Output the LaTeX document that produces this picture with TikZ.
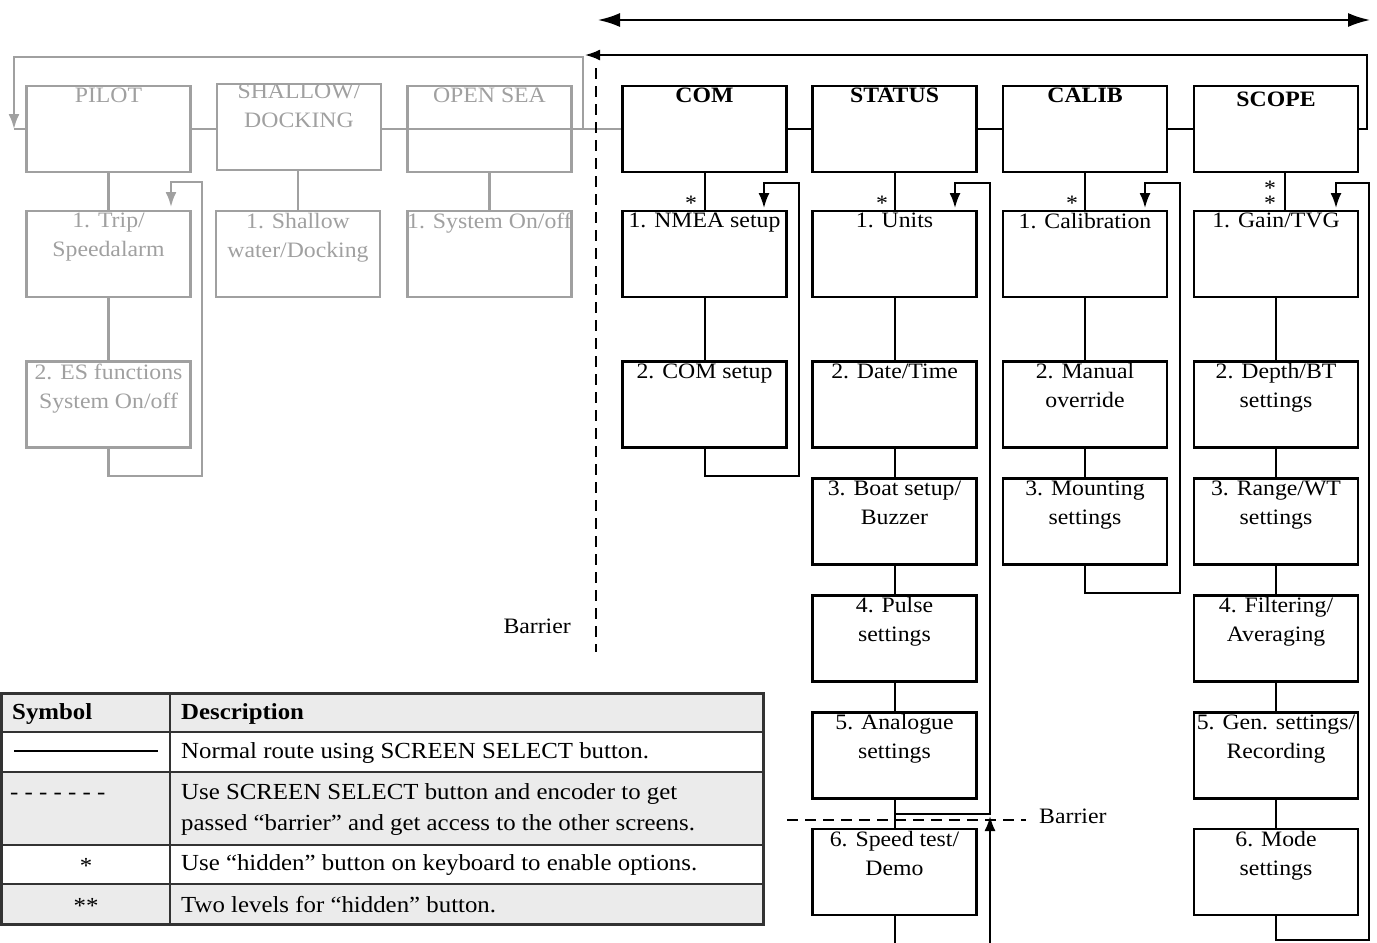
\documentclass[tikz,border=0pt]{standalone}
\usepackage{fontspec}
\setmainfont{Liberation Serif}[FakeStretch=1.08]
\usetikzlibrary{arrows.meta,positioning}
\definecolor{gr}{HTML}{A0A0A0}
\definecolor{tabgr}{HTML}{EBEBEB}
\definecolor{tabline}{HTML}{333333}
\tikzset{
  box/.style={draw=black, line width=2.2pt, minimum width=164pt, minimum height=86pt, inner sep=0pt},
  gbox/.style={box, draw=gr},
  txt/.style={below=3pt, align=center, inner sep=0pt, font=\fontsize{22}{29}\selectfont},
  gtxt/.style={txt, text=gr},
  btxt/.style={txt, font=\fontsize{22}{29}\selectfont\bfseries},
  conn/.style={draw=black, line width=2pt},
  gconn/.style={draw=gr, line width=2.2pt},
  tip/.style={-{Latex[length=15pt,width=11pt]}},
  star/.style={anchor=south, inner sep=0pt, font=\fontsize{22}{22}\selectfont},
  tabtxt/.style={anchor=west, inner sep=0pt, align=left, font=\fontsize{23}{31}\selectfont},
}
\begin{document}
\begin{tikzpicture}[x=1pt,y=-1pt]
\useasboundingbox (0,0) rectangle (1377,943);

% ---------- grey (inactive) boxes ----------
\node[gbox] (pilot) at (108.5,129) {};
\node[gtxt] (pilott) at (pilot.north) {PILOT};
\node[gbox] (shallow) at (299,127) {};
\node[gtxt] (shallowt) at ([yshift=2pt]shallow.north) {SHALLOW/\\DOCKING};
\node[gbox] (opensea) at (489.5,129) {};
\node[gtxt] (openseat) at (opensea.north) {OPEN SEA};
\node[gbox] (trip) at (108.5,254) {};
\node[gtxt] (tript) at (trip.north) {1. Trip/\\Speedalarm};
\node[gbox] (shw) at (298,254) {};
\node[gtxt] (shwt) at (shw.north) {1. Shallow\\water/Docking};
\node[gbox] (sys) at (489.5,254) {};
\node[gtxt] (syst) at (sys.north) {1. System On/off};
\node[gbox] (es) at (108.5,404.5) {};
\node[gtxt] (est) at (es.north) {2. ES functions\\System On/off};

% grey connectors
\draw[gconn] (pilot.east) -- (pilot.east -| shallow.west);
\draw[gconn] (shallow.east |- opensea.east) -- (opensea.east);
\draw[gconn] (opensea.east) -- (opensea.east -| 622,0);
\coordinate (gA) at (583,129);
\coordinate (gB) at (583,57);
\coordinate (gC) at (14,57);
\coordinate (gD) at (14,129);
\draw[gconn] (pilot.west) -- (gD);
\draw[gconn, color=gr, -{Latex[length=15pt,width=11pt]}] (gA) -- (gB) -- (gC) -- (gD);
\draw[gconn] (pilot.south) -- (trip.north);
\draw[gconn] (trip.south) -- (es.north);
\draw[gconn] (shallow.south -| shw.north) -- (shw.north);
\draw[gconn] (opensea.south) -- (sys.north);
\draw[gconn, color=gr, -{Latex[length=15pt,width=11pt]}] (es.south) -- (108.5,476) -- (202,476) -- (202,182) -- (171,182) -- (171,207);

% ---------- black boxes ----------
\node[box] (com) at (704.5,129) {};
\node[btxt] (comt) at (com.north) {COM};
\node[box] (status) at (894.5,129) {};
\node[btxt] (statust) at (status.north) {STATUS};
\node[box] (calib) at (1085,129) {};
\node[btxt] (calibt) at (calib.north) {CALIB};
\node[box] (scope) at (1276,129) {};
\node[btxt] (scopet) at ([yshift=-4pt]scope.north) {SCOPE};

\node[box] (nmea) at (704.5,254) {};
\node[txt] (nmeat) at (nmea.north) {1. NMEA setup};
\node[box] (comset) at (704.5,404.5) {};
\node[txt] (comsett) at (comset.north) {2. COM setup};

\node[box] (units) at (894.5,254) {};
\node[txt] (unitst) at (units.north) {1. Units};
\node[box] (datet) at (894.5,404.5) {};
\node[txt] (datett) at (datet.north) {2. Date/Time};
\node[box] (boat) at (894.5,521.5) {};
\node[txt] (boatt) at (boat.north) {3. Boat setup/\\Buzzer};
\node[box] (pulse) at (894.5,638.5) {};
\node[txt] (pulset) at (pulse.north) {4. Pulse\\settings};
\node[box] (analog) at (894.5,755.5) {};
\node[txt] (analogt) at (analog.north) {5. Analogue\\settings};
\node[box] (speed) at (894.5,872) {};
\node[txt] (speedt) at (speed.north) {6. Speed test/\\Demo};

\node[box] (calibr) at (1085,254) {};
\node[txt] (calibrt) at (calibr.north) {1. Calibration};
\node[box] (manual) at (1085,404.5) {};
\node[txt] (manualt) at (manual.north) {2. Manual\\override};
\node[box] (mount) at (1085,521.5) {};
\node[txt] (mountt) at (mount.north) {3. Mounting\\settings};

\node[box] (gain) at (1276,254) {};
\node[txt] (gaint) at (gain.north) {1. Gain/TVG};
\node[box] (depth) at (1276,404.5) {};
\node[txt] (deptht) at (depth.north) {2. Depth/BT\\settings};
\node[box] (range) at (1276,521.5) {};
\node[txt] (ranget) at (range.north) {3. Range/WT\\settings};
\node[box] (filter) at (1276,638.5) {};
\node[txt] (filtert) at (filter.north) {4. Filtering/\\Averaging};
\node[box] (gen) at (1276,755.5) {};
\node[txt] (gent) at (gen.north) {5. Gen. settings/\\Recording};
\node[box] (mode) at (1276,872) {};
\node[txt] (modet) at (mode.north) {6. Mode\\settings};

% horizontal links
\draw[conn] (com.east) -- (status.west);
\draw[conn] (status.east) -- (calib.west);
\draw[conn] (calib.east) -- (scope.west);

% vertical links
\draw[conn] (com.south) -- (nmea.north);
\draw[conn] (nmea.south) -- (comset.north);
\draw[conn] (status.south) -- (units.north);
\draw[conn] (units.south) -- (datet.north);
\draw[conn] (datet.south) -- (boat.north);
\draw[conn] (boat.south) -- (pulse.north);
\draw[conn] (pulse.south) -- (analog.north);
\draw[conn] (analog.south) -- (speed.north);
\draw[conn] (calib.south) -- (calibr.north);
\draw[conn] (calibr.south) -- (manual.north);
\draw[conn] (manual.south) -- (mount.north);
\draw[conn] ([xshift=9pt]scope.south) -- ([xshift=9pt]gain.north);
\draw[conn] (gain.south) -- (depth.north);
\draw[conn] (depth.south) -- (range.north);
\draw[conn] (range.south) -- (filter.north);
\draw[conn] (filter.south) -- (gen.north);
\draw[conn] (gen.south) -- (mode.north);

% stars
\node[star] (s1) at (691,211) {*};
\node[star] (s2) at (882,211) {*};
\node[star] (s3) at (1072,211) {*};
\node[star, align=center, font=\fontsize{22}{14}\selectfont] (s4) at (1270,211) {*\\*};

% return loops
\draw[conn, tip] (comset.south) -- (704.5,476) -- (799,476) -- (799,183) -- (764,183) -- (764,208);
\coordinate (sj) at (894.5,814);
\draw[conn, tip] (sj) -- (990,814) -- (990,183) -- (955,183) -- (955,208);
\coordinate (sb) at (894.5,943);
\coordinate (sr) at (990,943);
\draw[conn] (speed.south) -- (sb);
\draw[conn, tip] (sr) -- (990,816);
\draw[conn, tip] (mount.south) -- (1085,593) -- (1180,593) -- (1180,183) -- (1145,183) -- (1145,208);
\draw[conn, tip] (mode.south) -- (1276,940) -- (1369,940) -- (1369,183) -- (1336,183) -- (1336,208);

% top arrows
\draw[conn, tip] (scope.east) -- (1367,129) -- (1367,55) -- (585,55);
\coordinate (tl) at (598,20);
\coordinate (tr) at (1370,20);
\draw[conn, {Latex[length=22pt,width=14pt]}-{Latex[length=22pt,width=14pt]}] (tl) -- (tr);

% barriers
\draw[draw=black, line width=2pt, dash pattern=on 11pt off 7pt] (596,68) -- (596,652);
\node[anchor=base east, inner sep=0pt, font=\fontsize{22}{22}\selectfont] (bar1) at (571,633) {Barrier};
\draw[draw=black, line width=2pt, dash pattern=on 11pt off 7pt] (787,820) -- (1026,820);
\node[anchor=base west, inner sep=0pt, font=\fontsize{22}{22}\selectfont] (bar2) at (1039,823) {Barrier};

% ---------- legend table ----------
\fill[tabgr] (0,693) rectangle (765,732);
\fill[tabgr] (0,772) rectangle (765,845);
\fill[tabgr] (0,884) rectangle (765,924);
\draw[draw=tabline, line width=1.6pt] (0,732) -- (765,732) (0,772) -- (765,772) (0,845) -- (765,845) (0,884) -- (765,884) (170,693) -- (170,924);
\draw[draw=tabline, line width=3pt] (1.5,693) rectangle (763.5,924);

\node[tabtxt, font=\fontsize{23}{31}\selectfont\bfseries] (h1) at (12,714) {Symbol};
\node[tabtxt, font=\fontsize{23}{31}\selectfont\bfseries] (h2) at (181,714) {Description};
\coordinate (la) at (14,751);
\coordinate (lb) at (158,751);
\draw[conn] (la) -- (lb);
\node[tabtxt] (d1) at (181,753) {Normal route using SCREEN SELECT button.};
\node[tabtxt] (sy2) at (10,796) {- - - - - - -};
\node[tabtxt] (d2) at (181,809) {Use SCREEN SELECT button and encoder to get\\passed “barrier” and get access to the other screens.};
\node[tabtxt, anchor=center] (sy3) at (86,866) {*};
\node[tabtxt] (d3) at (181,865) {Use “hidden” button on keyboard to enable options.};
\node[tabtxt, anchor=center] (sy4) at (86,906) {**};
\node[tabtxt] (d4) at (181,905) {Two levels for “hidden” button.};
\end{tikzpicture}
\end{document}
